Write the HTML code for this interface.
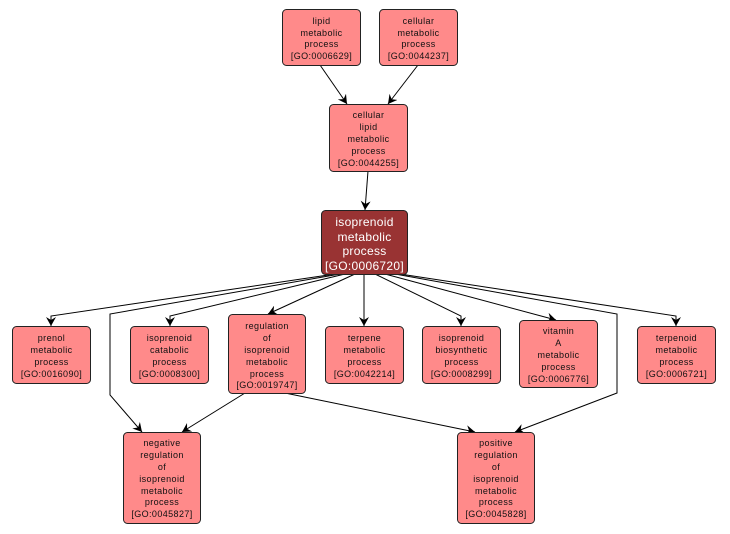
<!DOCTYPE html>
<html><head><meta charset="utf-8"><style>
html,body{margin:0;padding:0;background:#fff;}
svg{display:block;font-family:"Liberation Sans",sans-serif;}
.n rect{fill:#ff8a8a;stroke:#222;stroke-width:1;}
.n text{font-size:9px;fill:#111;text-anchor:middle;letter-spacing:0.4px;}
.m rect{fill:#993333;stroke:#222;}
.m text{font-size:12px;fill:#fff;text-anchor:middle;letter-spacing:0.3px;}
.e{fill:none;stroke:#000;stroke-width:1;marker-end:url(#a);}
</style></head><body>
<svg width="730" height="534" viewBox="0 0 730 534">
<defs><marker id="a" markerWidth="10" markerHeight="10" refX="9" refY="5" orient="auto" markerUnits="userSpaceOnUse">
<path d="M0,0 L9,5 L0,10 L3,5 Z" fill="#000"/></marker></defs>
<g>
<path class="e" d="M320,65 L347,104"/>
<path class="e" d="M418,65 L388,104"/>
<path class="e" d="M368,171 L365,210"/>
<path class="e" d="M335,274 L51,316 L51,326"/>
<path class="e" d="M340,274 L110,314 L110,395 L142,432"/>
<path class="e" d="M345,274 L170,316 L170,326"/>
<path class="e" d="M355,274 L268,314"/>
<path class="e" d="M364,274 L364,326"/>
<path class="e" d="M375,274 L461,316 L461,326"/>
<path class="e" d="M385,274 L556,320"/>
<path class="e" d="M395,274 L617,314 L617,393 L515,432"/>
<path class="e" d="M400,274 L676,316 L676,326"/>
<path class="e" d="M245,393 L182,432"/>
<path class="e" d="M285,393 L475,432"/>
</g>
<g class="n"><rect x="282.5" y="9.5" width="78" height="56" rx="4"/>
<text x="321.5" y="24">lipid</text><text x="321.5" y="36">metabolic</text><text x="321.5" y="47">process</text><text x="321.5" y="59">[GO:0006629]</text></g>
<g class="n"><rect x="379.5" y="9.5" width="78" height="56" rx="4"/>
<text x="418.5" y="24">cellular</text><text x="418.5" y="36">metabolic</text><text x="418.5" y="47">process</text><text x="418.5" y="59">[GO:0044237]</text></g>
<g class="n"><rect x="329.5" y="104.5" width="78" height="67" rx="4"/>
<text x="368.5" y="118">cellular</text><text x="368.5" y="130">lipid</text><text x="368.5" y="142">metabolic</text><text x="368.5" y="154">process</text><text x="368.5" y="166">[GO:0044255]</text></g>
<g class="m"><rect x="321.5" y="210.5" width="86" height="64" rx="4"/>
<text x="364.5" y="226">isoprenoid</text><text x="364.5" y="241">metabolic</text><text x="364.5" y="255">process</text><text x="364.5" y="270">[GO:0006720]</text></g>
<g class="n"><rect x="12.5" y="326.5" width="78" height="57" rx="4"/>
<text x="51.5" y="341">prenol</text><text x="51.5" y="353">metabolic</text><text x="51.5" y="365">process</text><text x="51.5" y="377">[GO:0016090]</text></g>
<g class="n"><rect x="130.5" y="326.5" width="78" height="57" rx="4"/>
<text x="169.5" y="341">isoprenoid</text><text x="169.5" y="353">catabolic</text><text x="169.5" y="365">process</text><text x="169.5" y="377">[GO:0008300]</text></g>
<g class="n"><rect x="228.5" y="314.5" width="77" height="79" rx="4"/>
<text x="267" y="329">regulation</text><text x="267" y="341">of</text><text x="267" y="353">isoprenoid</text><text x="267" y="365">metabolic</text><text x="267" y="377">process</text><text x="267" y="388">[GO:0019747]</text></g>
<g class="n"><rect x="325.5" y="326.5" width="78" height="57" rx="4"/>
<text x="364.5" y="341">terpene</text><text x="364.5" y="353">metabolic</text><text x="364.5" y="365">process</text><text x="364.5" y="377">[GO:0042214]</text></g>
<g class="n"><rect x="422.5" y="326.5" width="78" height="57" rx="4"/>
<text x="461.5" y="341">isoprenoid</text><text x="461.5" y="353">biosynthetic</text><text x="461.5" y="365">process</text><text x="461.5" y="377">[GO:0008299]</text></g>
<g class="n"><rect x="519.5" y="320.5" width="78" height="67" rx="4"/>
<text x="558.5" y="334">vitamin</text><text x="558.5" y="346">A</text><text x="558.5" y="358">metabolic</text><text x="558.5" y="370">process</text><text x="558.5" y="382">[GO:0006776]</text></g>
<g class="n"><rect x="637.5" y="326.5" width="78" height="57" rx="4"/>
<text x="676.5" y="341">terpenoid</text><text x="676.5" y="353">metabolic</text><text x="676.5" y="365">process</text><text x="676.5" y="377">[GO:0006721]</text></g>
<g class="n"><rect x="123.5" y="432.5" width="77" height="91" rx="4"/>
<text x="162" y="446">negative</text><text x="162" y="458">regulation</text><text x="162" y="470">of</text><text x="162" y="482">isoprenoid</text><text x="162" y="494">metabolic</text><text x="162" y="505">process</text><text x="162" y="517">[GO:0045827]</text></g>
<g class="n"><rect x="457.5" y="432.5" width="77" height="91" rx="4"/>
<text x="496" y="446">positive</text><text x="496" y="458">regulation</text><text x="496" y="470">of</text><text x="496" y="482">isoprenoid</text><text x="496" y="494">metabolic</text><text x="496" y="505">process</text><text x="496" y="517">[GO:0045828]</text></g>
</svg>
</body></html>
